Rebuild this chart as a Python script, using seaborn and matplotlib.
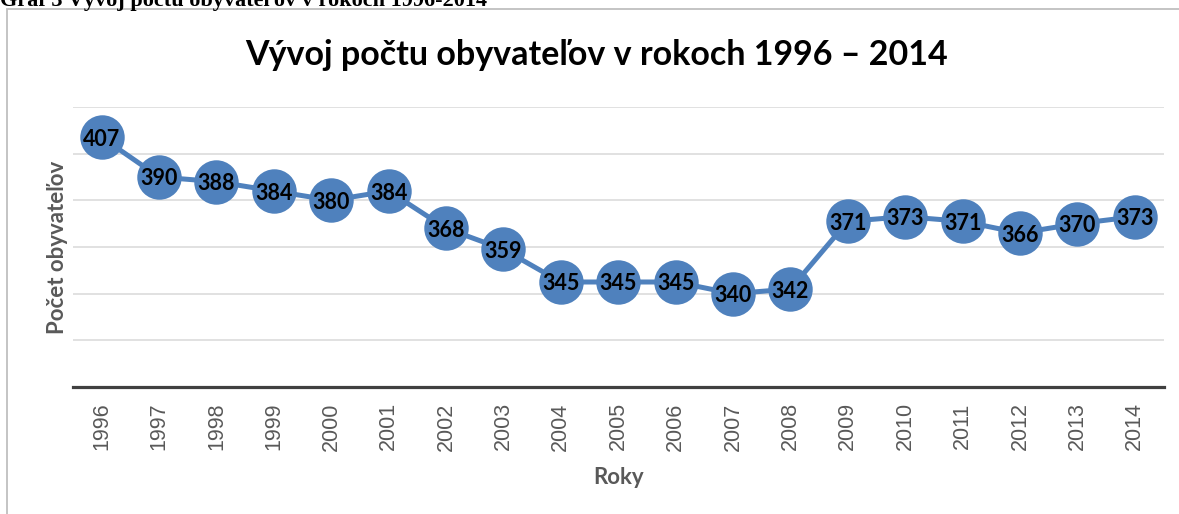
import numpy as np
import pandas as pd
import matplotlib
matplotlib.use("Agg")
import matplotlib.pyplot as plt
from matplotlib.patches import Rectangle
import seaborn as sns

# ---- data ----
years = ["1996", "1997", "1998", "1999", "2000", "2001", "2002", "2003", "2004", "2005",
         "2006", "2007", "2008", "2009", "2010", "2011", "2012", "2013", "2014"]
population = [407, 390, 388, 384, 380, 384, 368, 359, 345, 345,
              345, 340, 342, 371, 373, 371, 366, 370, 373]
title = "Vývoj počtu obyvateľov v rokoch 1996 – 2014"
caption = "Graf 3 Vývoj počtu obyvateľov v rokoch 1996-2014"
ylabel = "Počet obyvateľov"
xlabel = "Roky"

df = pd.DataFrame({"pos": np.arange(len(years)), "year": years, "pop": population})

sns.set_theme(style="white")
plt.rcParams["font.family"] = ["Lato", "DejaVu Sans"]

W, H = 1179, 514
fig = plt.figure(figsize=(W / 100, H / 100), dpi=100)
ax = fig.add_axes([73 / W, 1 - 387 / H, (1163.5 - 73) / W, (387 - 107) / H])

blue = "#4F81BD"
sns.lineplot(data=df, x="pos", y="pop", ax=ax, color=blue, linewidth=3.6,
             marker="o", markersize=32, markeredgewidth=0, zorder=3)

for i, v in enumerate(population):
    ax.text(i, v, str(v), ha="center", va="center_baseline", fontsize=15.5,
            fontweight="bold", color="black", zorder=4)

ax.set_xlim(-0.5, len(years) - 0.5)
ax.set_ylim(300, 420)
ax.set_yticks(np.arange(300, 421, 20))
ax.yaxis.grid(True, color="#D9D9D9", linewidth=1.1)
ax.set_axisbelow(True)
ax.tick_params(axis="y", left=False, labelleft=False)
ax.set_xticks(np.arange(len(years)))
ax.set_xticklabels(years, rotation=90, fontsize=15.5, color="#595959",
                   family=["Liberation Sans", "DejaVu Sans"])
ax.tick_params(axis="x", length=0, pad=11)
for s in ["top", "right", "left"]:
    ax.spines[s].set_visible(False)
ax.spines["bottom"].set_color("#404040")
ax.spines["bottom"].set_linewidth(2.3)
ax.set_xlabel("")
ax.set_ylabel("")

fig.text(597 / W, 1 - 65 / H, title, ha="center", va="baseline", fontsize=24.5,
         fontweight="bold", color="black")
fig.text(57 / W, 1 - 247 / H, ylabel, ha="center", va="center", rotation=90,
         fontsize=16, fontweight="bold", color="#595959")
fig.text(619 / W, 1 - 477 / H, xlabel, ha="center", va="center",
         fontsize=16, fontweight="bold", color="#595959")

# chart frame
fig.patches.append(Rectangle((7 / W, -0.1), 1.2, 1 - 8.5 / H + 0.1,
                             transform=fig.transFigure, fill=False,
                             edgecolor="#BFBFBF", linewidth=1.3))
# partially visible document caption above the chart
fig.text(0 / W, 1 - 6 / H, caption, ha="left", va="baseline", fontsize=16,
         fontweight="bold", color="black", family=["Liberation Serif", "DejaVu Serif"])

fig.savefig("out.png", dpi=100)
